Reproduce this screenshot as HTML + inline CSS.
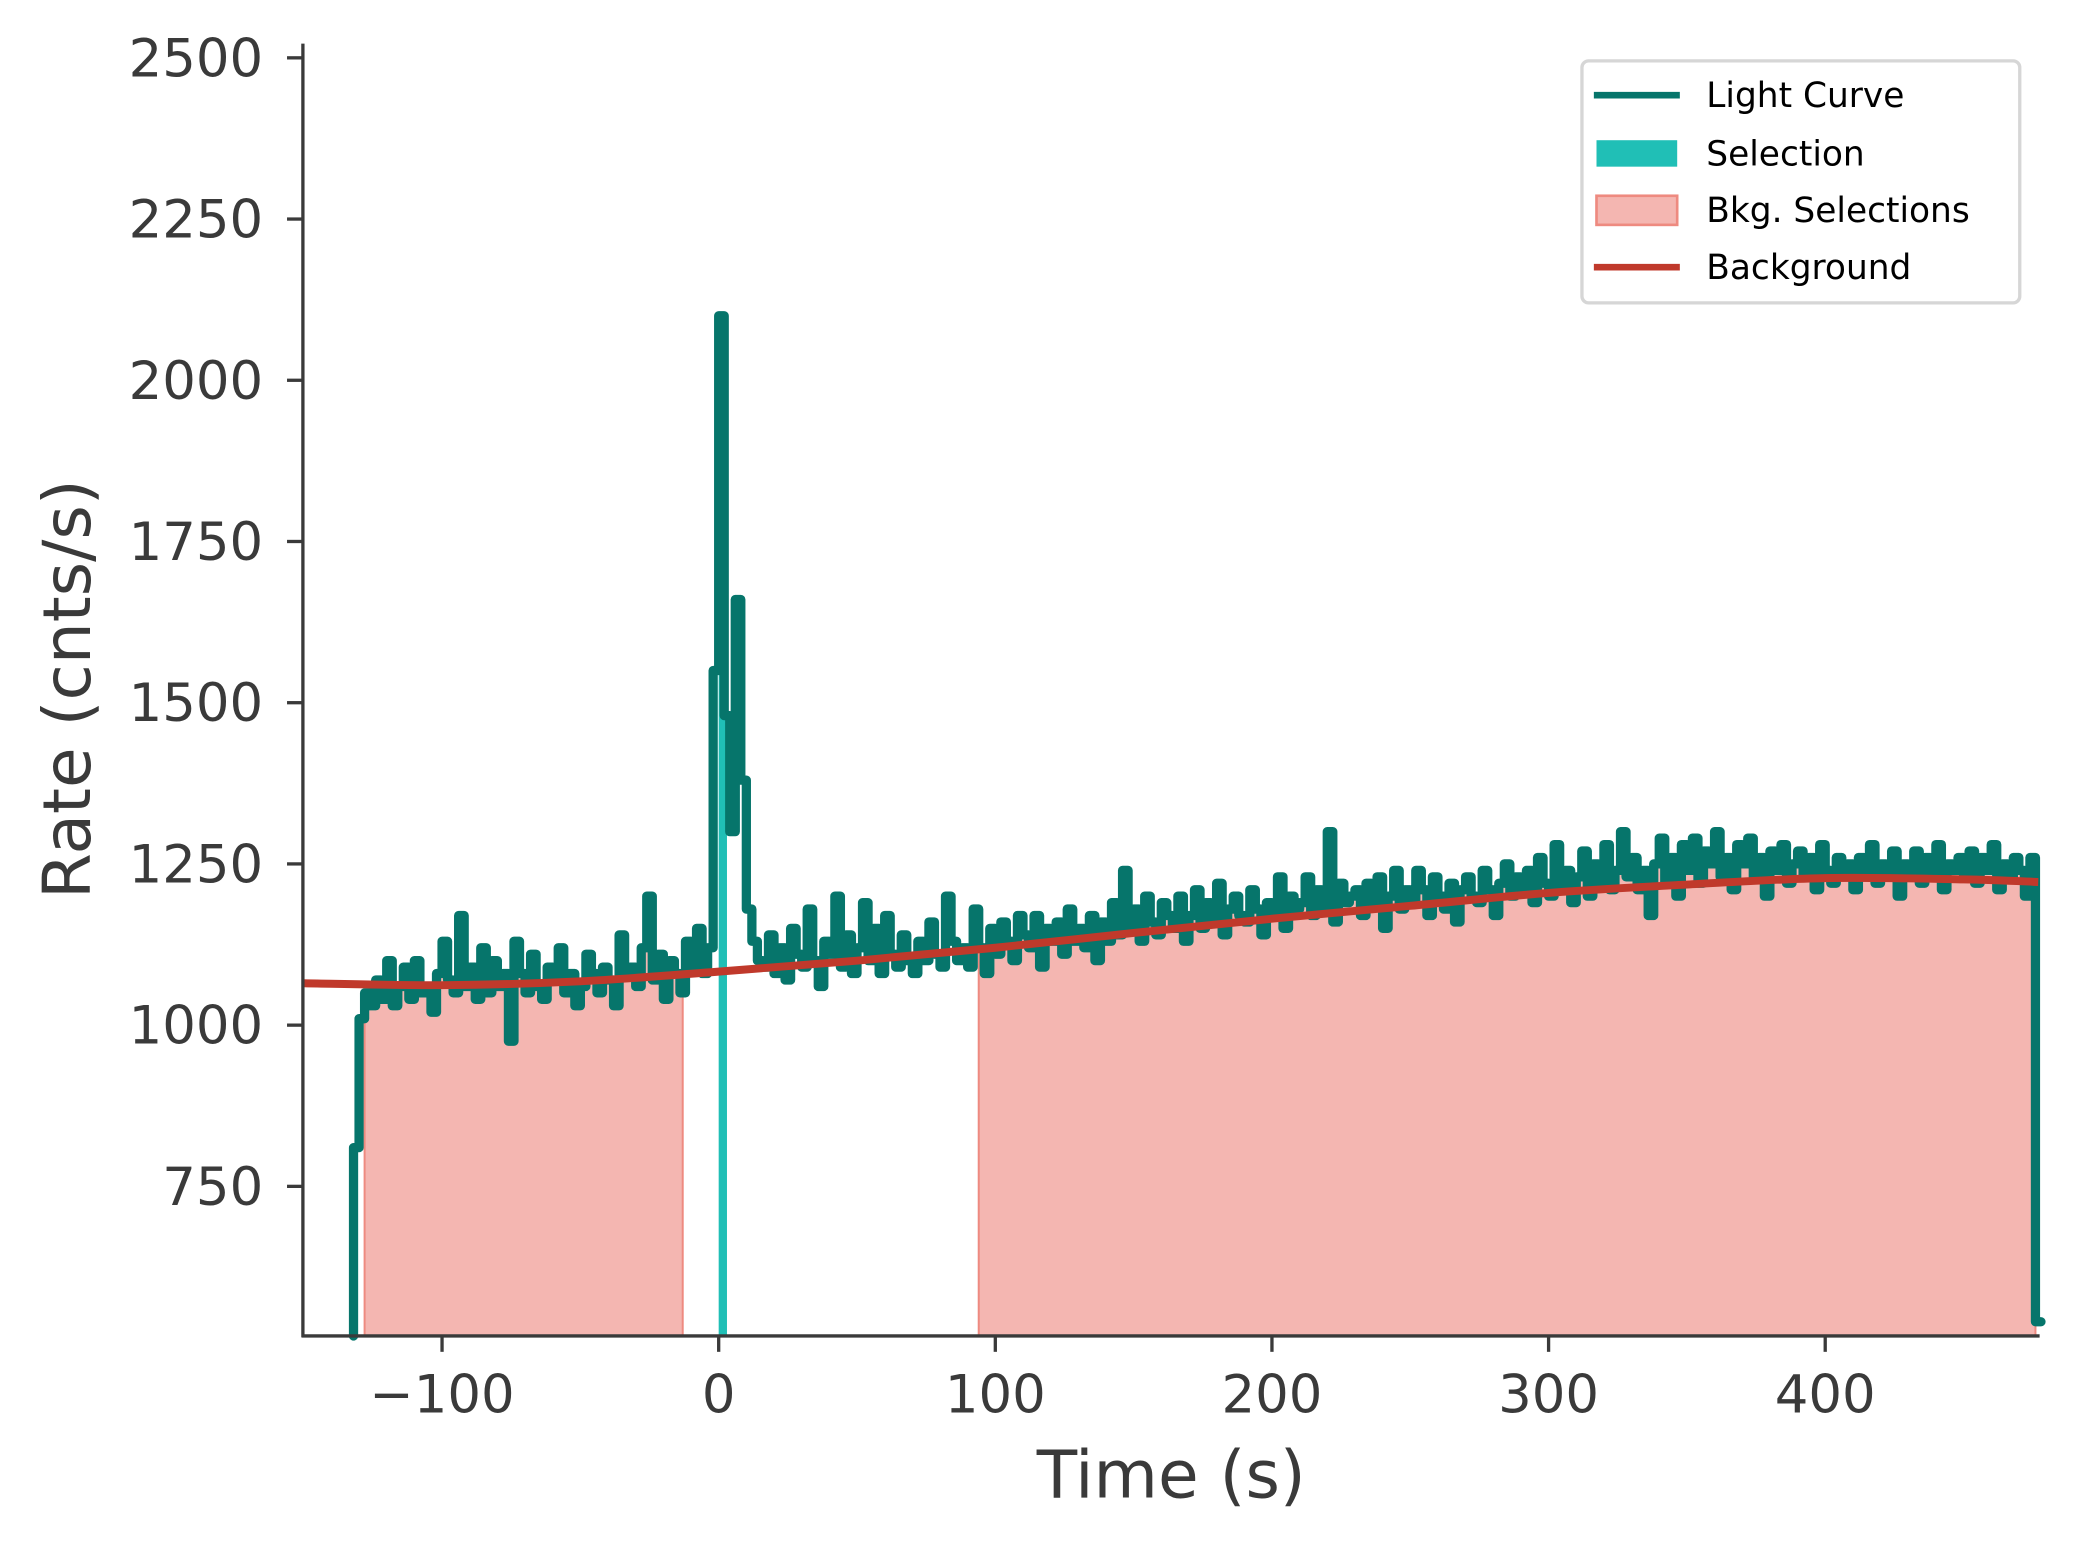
<!DOCTYPE html>
<html><head><meta charset="utf-8"><style>
html,body{margin:0;padding:0;background:#fff}
svg{display:block;font-family:"DejaVu Sans","Liberation Sans",sans-serif}
</style></head><body>
<svg id="chart" width="2074" height="1548" viewBox="0 0 1568 1170.3" preserveAspectRatio="none">
<g id="plot"></g>
<g id="axes"></g>
<g>
 <rect x="1196" y="46" width="331" height="183" rx="5" fill="#fff" stroke="#d6d6d6" stroke-width="2.5"/>
 <line x1="1205" y1="72" x2="1270" y2="72" stroke="#06756b" stroke-width="5"/>
 <text x="1290" y="81" font-size="26" fill="#000">Light Curve</text>
 <rect x="1207" y="106" width="61" height="20" fill="#20bfb6"/>
 <text x="1290" y="125" font-size="26" fill="#000">Selection</text>
 <rect x="1207" y="148" width="61" height="22" fill="#f4b6b1" stroke="#ee8a80" stroke-width="2"/>
 <text x="1290" y="168" font-size="26" fill="#000">Bkg. Selections</text>
 <line x1="1205" y1="202" x2="1270" y2="202" stroke="#c0392b" stroke-width="5"/>
 <text x="1290" y="211" font-size="26" fill="#000">Background</text>
</g>
</svg>
<script>
const binStart = -132;
const binWidth = 2;
const rates = [810,
1010,1050,1030,1070,1040,1100,1030,1060,1090,1040,
1100,1050,1060,1020,1080,1130,1070,1050,1170,1060,
1090,1040,1120,1050,1100,1060,1080,975,1130,1080,
1050,1110,1060,1040,1090,1070,1120,1050,1080,1030,
1060,1110,1080,1050,1090,1070,1030,1140,1080,1090,
1060,1120,1200,1070,1110,1040,1100,1080,1050,1130,
1090,1150,1080,1120,1550,
2100,1480,1300,1660,1380,
1180,1130,1100,1090,1140,1080,1120,1070,1150,1110,
1090,1180,1100,1060,1130,1110,1200,1090,1140,1080,
1120,1190,1100,1150,1080,1170,1110,1090,1140,1100,
1080,1130,1100,1160,1110,1090,1200,1130,1100,1120,
1090,1180,1120,1080,1150,1110,1160,1130,1100,1170,
1140,1120,1170,1090,1150,1130,1160,1110,1180,1130,
1150,1120,1170,1100,1160,1130,1190,1140,1240,1150,
1180,1130,1200,1160,1140,1190,1170,1150,1200,1130,
1170,1210,1150,1190,1160,1220,1140,1180,1200,1170,
1160,1210,1180,1140,1190,1170,1230,1150,1200,1180,
1190,1230,1170,1210,1180,1300,1160,1220,1190,1200,
1210,1170,1220,1190,1230,1150,1200,1240,1180,1210,
1190,1240,1210,1170,1230,1200,1180,1220,1160,1210,
1230,1200,1190,1240,1210,1170,1220,1250,1200,1230,
1210,1240,1190,1260,1220,1200,1280,1210,1240,1190,
1230,1270,1200,1250,1220,1280,1210,1240,1300,1230,
1260,1210,1240,1170,1250,1290,1220,1260,1200,1280,
1240,1290,1220,1270,1250,1300,1230,1260,1210,1280,
1250,1290,1230,1260,1200,1270,1240,1280,1220,1250,
1270,1230,1260,1210,1280,1240,1220,1260,1230,1250,
1210,1260,1240,1280,1220,1250,1230,1270,1200,1250,
1240,1270,1220,1260,1230,1280,1210,1250,1240,1260,
1230,1270,1220,1260,1240,1280,1210,1250,1230,1260,
1240,1200,1260,540];
const bkgTimes = [-150,-100,-50,0,50,100,150,200,250,300,350,400,450,477];
const bkgRates = [1065,1062,1068,1083,1100,1120,1143,1165,1185,1205,1218,1228,1226,1222];
const bkgIntervals = [[-128,-13],[94,476]];
const srcInterval = [0,3];
const xTicks = [-100,0,100,200,300,400];
const yTicks = [750,1000,1250,1500,1750,2000,2250,2500];

const L=229,R=1542,T=33,B=1010, X0=-150.3,X1=477.5, Y0=518,Y1=2522;
const sx=v=>L+(v-X0)/(X1-X0)*(R-L);
const sy=v=>B-(v-Y0)/(Y1-Y0)*(B-T);
const NS='http://www.w3.org/2000/svg';
const plot=document.getElementById('plot'), axes=document.getElementById('axes');
function mk(tag,attrs,parent){const e=document.createElementNS(NS,tag);for(const k in attrs)e.setAttribute(k,attrs[k]);parent.appendChild(e);return e;}

function fillPath(a,b){
  let d='M'+sx(a)+','+sy(Y0);
  for(let i=0;i<rates.length;i++){
    const t0=binStart+i*binWidth,t1=t0+binWidth;
    const s=Math.max(t0,a),e=Math.min(t1,b);
    if(e<=s)continue;
    d+=' L'+sx(s)+','+sy(rates[i])+' L'+sx(e)+','+sy(rates[i]);
  }
  d+=' L'+sx(b)+','+sy(Y0)+' Z';
  return d;
}
bkgIntervals.forEach((iv,k)=>{
  const p=mk('path',{d:fillPath(iv[0],iv[1]),fill:'#f4b6b1',stroke:'#ee8a80','stroke-width':1.5},plot);
  
  
});
const sp=mk('path',{d:fillPath(srcInterval[0],srcInterval[1]),fill:'#20bfb6'},plot);



let d='';
for(let i=0;i<rates.length;i++){
  const t0=binStart+i*binWidth,t1=t0+binWidth;
  if(i===0)d='M'+sx(t0)+','+sy(Y0)+' L'+sx(t0)+','+sy(rates[i]);
  else d+=' L'+sx(t0)+','+sy(rates[i]);
  d+=' L'+sx(t1)+','+sy(rates[i]);
}
const lc=mk('path',{d:d,fill:'none',stroke:'#06756b','stroke-width':7,'stroke-linejoin':'round','stroke-linecap':'round'},plot);



const pts=bkgTimes.map((t,i)=>[sx(t),sy(bkgRates[i])]);
let bd='M'+pts[0][0]+','+pts[0][1];
for(let i=0;i<pts.length-1;i++){
  const p0=pts[Math.max(i-1,0)],p1=pts[i],p2=pts[i+1],p3=pts[Math.min(i+2,pts.length-1)];
  bd+=' C'+(p1[0]+(p2[0]-p0[0])/6)+','+(p1[1]+(p2[1]-p0[1])/6)+' '+(p2[0]-(p3[0]-p1[0])/6)+','+(p2[1]-(p3[1]-p1[1])/6)+' '+p2[0]+','+p2[1];
}
const bg=mk('path',{d:bd,fill:'none',stroke:'#c0392b','stroke-width':6},plot);



mk('line',{x1:L,y1:T,x2:L,y2:B+1,stroke:'#3a3a3a','stroke-width':2.5},axes);
mk('line',{x1:L-1,y1:B,x2:R,y2:B,stroke:'#3a3a3a','stroke-width':2.5},axes);
xTicks.forEach(v=>{
  mk('line',{x1:sx(v),y1:B,x2:sx(v),y2:B+12,stroke:'#3a3a3a','stroke-width':2.5},axes);
  const t=mk('text',{x:sx(v),y:B+58,'font-size':40,fill:'#3a3a3a','text-anchor':'middle'},axes);
  t.textContent=(v<0?'\u2212'+(-v):String(v));
  
  
});
yTicks.forEach(v=>{
  mk('line',{x1:L-12,y1:sy(v),x2:L,y2:sy(v),stroke:'#3a3a3a','stroke-width':2.5},axes);
  const t=mk('text',{x:L-30,y:sy(v)+14,'font-size':40,fill:'#3a3a3a','text-anchor':'end'},axes);
  t.textContent=String(v);
  
  
});
const xt=mk('text',{x:(L+R)/2,y:1132,'font-size':50,fill:'#3a3a3a','text-anchor':'middle'},axes);
xt.textContent='Time (s)';


const yt=mk('text',{x:0,y:0,'font-size':50,fill:'#3a3a3a','text-anchor':'middle',transform:'translate(68,521) rotate(-90)'},axes);
yt.textContent='Rate (cnts/s)';


</script>
</body></html>
